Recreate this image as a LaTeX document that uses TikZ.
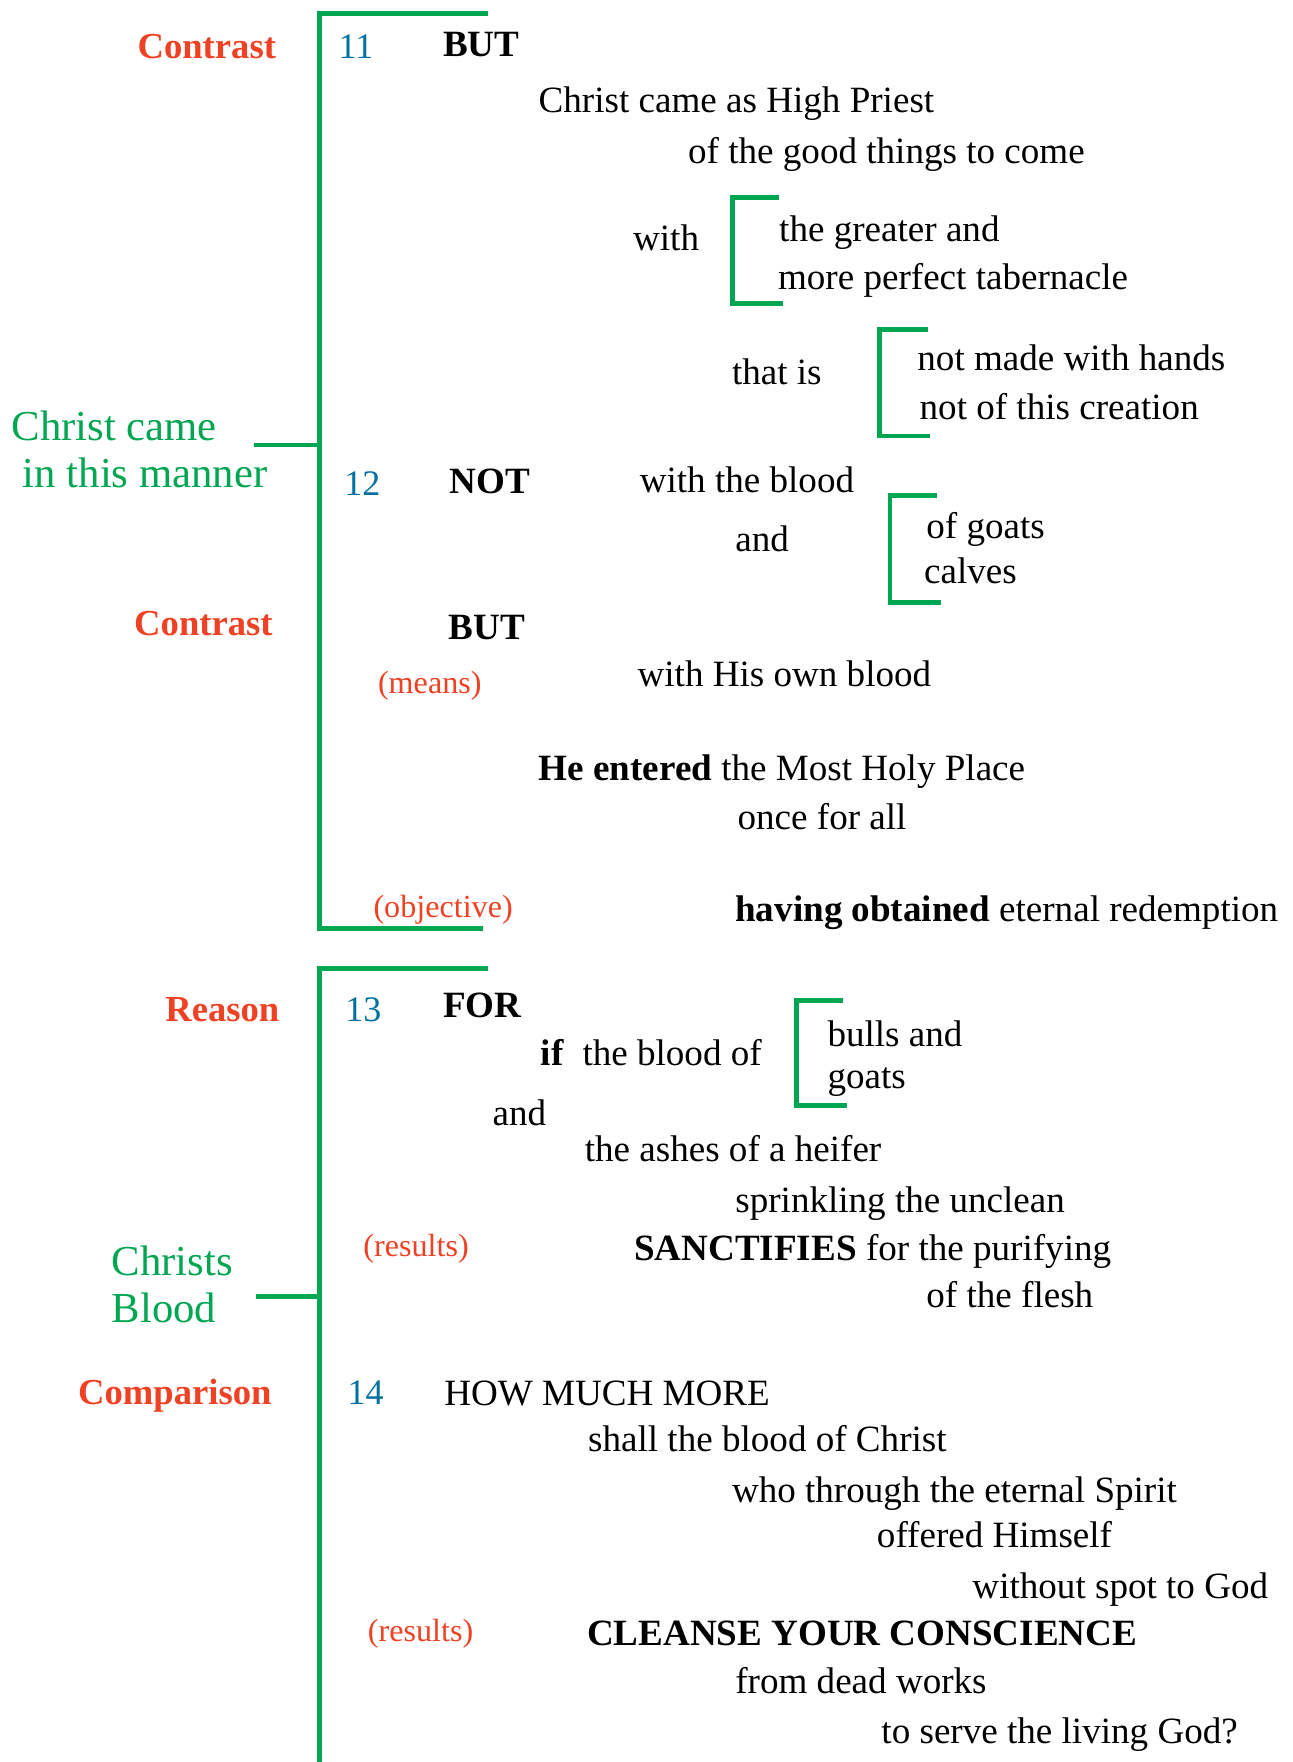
\documentclass[tikz,border=0pt]{standalone}
\usepackage{fontspec}
\setmainfont{Liberation Serif}
\definecolor{chartgreen}{RGB}{0,166,81}
\definecolor{chartred}{RGB}{239,65,35}
\definecolor{chartblue}{RGB}{0,112,160}

\begin{document}
\begin{tikzpicture}[x=0.5pt,y=-0.5pt,
    line/.style={anchor=west,inner sep=0pt,text height=0.75em,text depth=0.1em,yshift=-2.2pt,
      font=\fontsize{16.5}{20}\selectfont},
    verse/.style={line,text=chartblue,font=\fontsize{16}{20}\selectfont},
    role/.style={line,anchor=east,text=chartred,font=\fontsize{16.3}{20}\selectfont\bfseries},
    aside/.style={line,text=chartred,font=\fontsize{14.3}{18}\selectfont},
    theme/.style={line,text=chartgreen,font=\fontsize{19}{22}\selectfont},
    bar/.style={draw=chartgreen,line width=2.2pt}]
    \useasboundingbox (0,0) rectangle (1150,1568);
    % outer brackets
    \draw[bar] (434,12) -- (284,12) -- (284,826) -- (430,826);
    \draw[bar] (434,862) -- (284,862) -- (284,1570);
    \draw[bar] (226,396) -- (284,396);
    \draw[bar] (228,1154) -- (284,1154);
    % inner brackets
    \draw[bar] (693,176) -- (652,176) -- (652,270) -- (697,270);
    \draw[bar] (826,293) -- (783,293) -- (783,388) -- (828,388);
    \draw[bar] (834,441) -- (792,441) -- (792,536) -- (837,536);
    \draw[bar] (750,890) -- (709,890) -- (709,984) -- (754,984);
    % themes
    \node[theme] (came) at (10,381) {Christ came};
    \node[theme] (manner) at (20,423) {in this manner};
    \node[theme] (christs) at (99,1124) {Christs};
    \node[theme] (blood) at (99,1166) {Blood};
    % roles
    \node[role] (contrastA) at (246,41) {Contrast};
    \node[role] (contrastB) at (243,555) {Contrast};
    \node[role] (reason) at (249,898) {Reason};
    \node[role] (comparison) at (242,1239) {Comparison};
    \node[aside] (means) at (336,606) {(means)};
    \node[aside] (objective) at (332,806) {(objective)};
    \node[aside] (resultsA) at (323,1107) {(results)};
    \node[aside] (resultsB) at (327,1450) {(results)};
    % verse 11
    \node[verse] (v11) at (301,41) {11};
    \node[line] (butA) at (394,39) {\textbf{BUT}};
    \node[line] (priest) at (479,89) {Christ came as High Priest};
    \node[line] (good) at (612,135) {of the good things to come};
    \node[line] (withA) at (563,212) {with};
    \node[line] (greater) at (693,204) {the greater and};
    \node[line] (perfect) at (692,247) {more perfect tabernacle};
    \node[line] (thatis) at (651,331) {that is};
    \node[line] (hands) at (816,319) {not made with hands};
    \node[line] (creation) at (818,362) {not of this creation};
    % verse 12
    \node[verse] (v12) at (306,430) {12};
    \node[line] (not) at (400,428) {\textbf{NOT}};
    \node[line] (withblood) at (569,427) {with the blood};
    \node[line] (andA) at (654,480) {and};
    \node[line] (goats) at (824,468) {of goats};
    \node[line] (calves) at (822,508) {calves};
    \node[line] (butB) at (399,558) {\textbf{BUT}};
    \node[line] (own) at (567,600) {with His own blood};
    \node[line] (entered) at (479,684) {\textbf{He entered} the Most Holy Place};
    \node[line] (once) at (656,727) {once for all};
    \node[line] (obtained) at (654,809) {\textbf{having obtained} eternal redemption};
    % verse 13
    \node[verse] (v13) at (307,898) {13};
    \node[line] (for) at (394,895) {\textbf{FOR}};
    \node[line] (if) at (481,937) {\textbf{if}~~the blood of};
    \node[line] (bulls) at (736,920) {bulls and};
    \node[line] (goatsB) at (736,958) {goats};
    \node[line] (andB) at (438,991) {and};
    \node[line] (ashes) at (520,1023) {the ashes of a heifer};
    \node[line] (unclean) at (654,1068) {sprinkling the unclean};
    \node[line] (sanctifies) at (564,1111) {\textbf{SANCTIFIES} for the purifying};
    \node[line] (flesh) at (824,1153) {of the flesh};
    % verse 14
    \node[verse] (v14) at (309,1239) {14};
    \node[line] (howmuch) at (395,1240) {HOW MUCH MORE};
    \node[line] (shall) at (523,1281) {shall the blood of Christ};
    \node[line] (spirit) at (651,1326) {who through the eternal Spirit};
    \node[line] (offered) at (780,1366) {offered Himself};
    \node[line] (spot) at (865,1412) {without spot to God};
    \node[line] (cleanse) at (522,1453) {\textbf{CLEANSE YOUR CONSCIENCE}};
    \node[line] (dead) at (654,1496) {from dead works};
    \node[line] (serve) at (784,1541) {to serve the living God?};
\end{tikzpicture}
\end{document}
